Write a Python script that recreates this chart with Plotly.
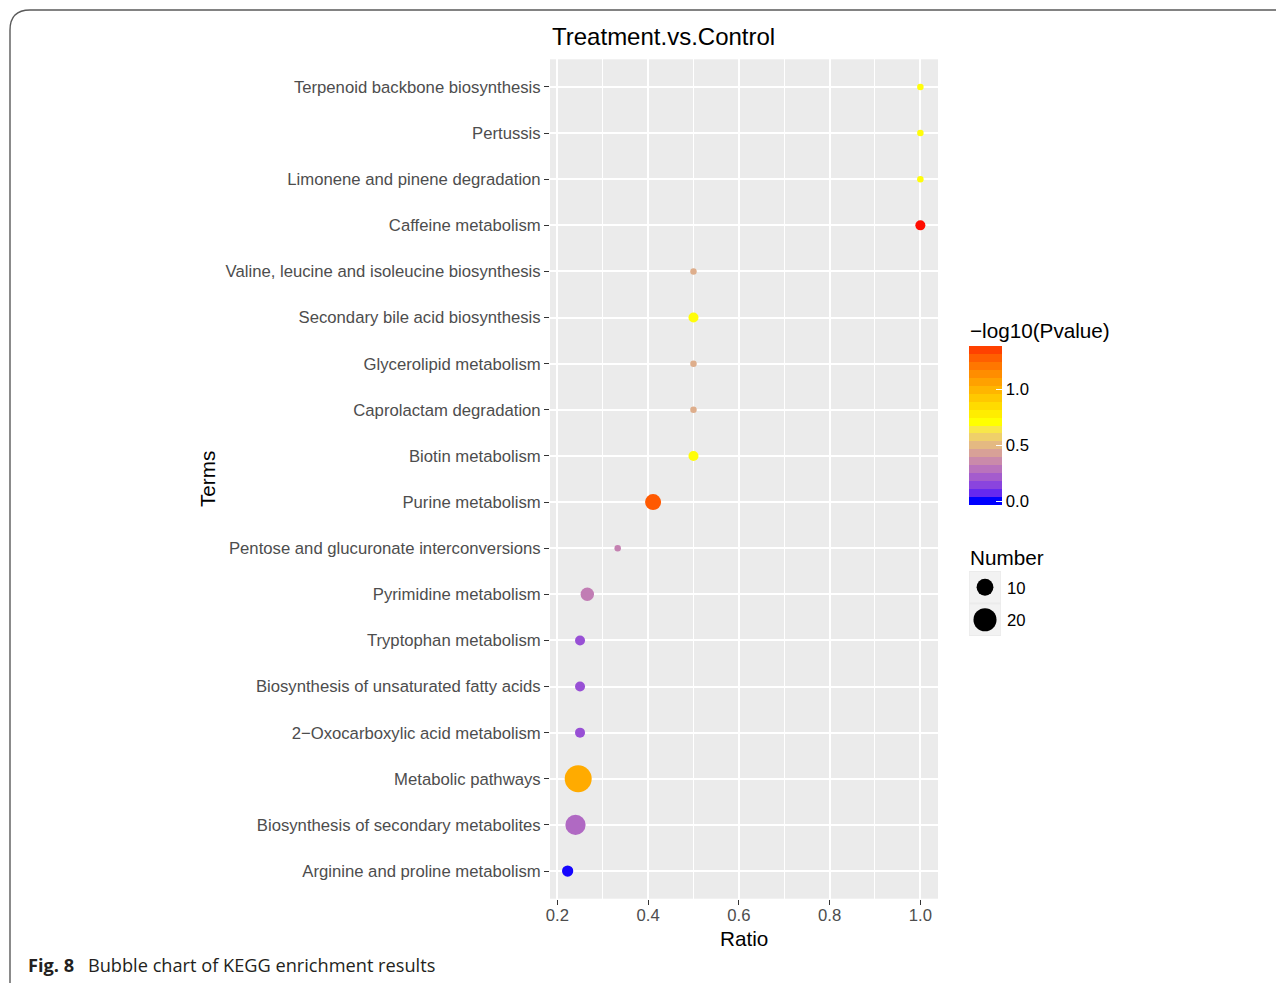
import numpy as np
import plotly.graph_objects as go

# ---------------- data ----------------
terms = [
    "Terpenoid backbone biosynthesis",
    "Pertussis",
    "Limonene and pinene degradation",
    "Caffeine metabolism",
    "Valine, leucine and isoleucine biosynthesis",
    "Secondary bile acid biosynthesis",
    "Glycerolipid metabolism",
    "Caprolactam degradation",
    "Biotin metabolism",
    "Purine metabolism",
    "Pentose and glucuronate interconversions",
    "Pyrimidine metabolism",
    "Tryptophan metabolism",
    "Biosynthesis of unsaturated fatty acids",
    "2\u2212Oxocarboxylic acid metabolism",
    "Metabolic pathways",
    "Biosynthesis of secondary metabolites",
    "Arginine and proline metabolism",
]
ratio = [1.0, 1.0, 1.0, 1.0, 0.5, 0.5, 0.5, 0.5, 0.5, 0.411, 0.333, 0.266,
         0.25, 0.25, 0.25, 0.246, 0.240, 0.2227]
number = [1, 1, 1, 3, 1, 3, 1, 1, 3, 9, 1, 6, 3, 3, 3, 28, 15, 4]
neglog10p = [0.67, 0.67, 0.67, 1.35, 0.44, 0.67, 0.44, 0.44, 0.67, 1.23, 0.31,
             0.30, 0.17, 0.17, 0.17, 0.98, 0.24, 0.0]
legend_numbers = [10, 20]
color_ticks = [0.0, 0.5, 1.0]
x_ticks = [0.2, 0.4, 0.6, 0.8, 1.0]

# page has an 8px body margin; positions below are given in window pixels
OFF = 8
W, H = 1284 - OFF, 983 - OFF
def px(x):
    return (x - OFF) / W
def py(y):
    return 1 - (y - OFF) / H

# ---------------- colour ramp (blue -> yellow -> red, Lab interpolation) ----------------
def _lin(c):
    c = c / 255.0
    return c / 12.92 if c <= 0.04045 else ((c + 0.055) / 1.055) ** 2.4
def _delin(c):
    c = 12.92 * c if c <= 0.0031308 else 1.055 * c ** (1 / 2.4) - 0.055
    return max(0, min(255, round(c * 255)))
M = np.array([[0.4124, 0.3576, 0.1805], [0.2126, 0.7152, 0.0722], [0.0193, 0.1192, 0.9505]])
Minv = np.linalg.inv(M)
WP = np.array([0.95047, 1.0, 1.08883])
def rgb2lab(rgb):
    xyz = M @ np.array([_lin(c) for c in rgb]) / WP
    f = np.where(xyz > (6 / 29) ** 3, np.cbrt(xyz), xyz / (3 * (6 / 29) ** 2) + 4 / 29)
    return np.array([116 * f[1] - 16, 500 * (f[0] - f[1]), 200 * (f[1] - f[2])])
def lab2rgb(lab):
    L, a, b = lab
    fy = (L + 16) / 116
    f = np.array([fy + a / 500, fy, fy - b / 200])
    xyz = np.where(f > 6 / 29, f ** 3, 3 * (6 / 29) ** 2 * (f - 4 / 29)) * WP
    lin = np.clip(Minv @ xyz, 0, 1)
    return tuple(_delin(c) for c in lin)
ramp = [rgb2lab((0, 0, 255)), rgb2lab((255, 255, 0)), rgb2lab((255, 0, 0))]
vmin, vmax = min(neglog10p), max(neglog10p)
def col(v):
    t = min(1, max(0, (v - vmin) / (vmax - vmin))) * 2
    i = min(1, int(t))
    f = t - i
    lab = ramp[i] * (1 - f) + ramp[i + 1] * f
    r, g, b = lab2rgb(lab)
    return f"rgb({r},{g},{b})"

# ggplot-like colourbar: 20 bins, bar extends half a bin beyond the limits
NBIN = 20
step = (vmax - vmin) / (NBIN - 1)
cmin, cmax = vmin - step / 2, vmax + step / 2
smooth_scale = [[float(s), col(cmin + s * (cmax - cmin))] for s in np.linspace(0, 1, 61)]
binned_scale = []
for i in range(NBIN):
    c = col(vmin + i * (vmax - vmin) / NBIN)
    binned_scale += [[i / NBIN, c], [(i + 1) / NBIN, c]]

# ---------------- size scale (area, ggplot-like) ----------------
nmin, nmax = min(number), max(number)
dmin, dmax = 6.5, 27.0
def size_of(n):
    return dmin + (dmax - dmin) * (np.sqrt(n) - np.sqrt(nmin)) / (np.sqrt(nmax) - np.sqrt(nmin))

TICK = 16.7
TITLE = 20.7
FONT = "Liberation Sans, Arial, Helvetica"

# ---------------- figure ----------------
fig = go.Figure()
fig.add_trace(go.Scatter(
    x=ratio, y=terms, mode="markers",
    marker=dict(size=[size_of(n) for n in number], color=neglog10p,
                colorscale=smooth_scale, cmin=cmin, cmax=cmax, opacity=1,
                line=dict(width=0), showscale=False),
    showlegend=False, hoverinfo="x+y",
))

# colour legend (binned colourbar, hidden carrier points)
fig.add_trace(go.Scatter(
    x=[-10, -10], y=[-10, -10], mode="markers", xaxis="x2", yaxis="y2",
    marker=dict(color=[vmin, vmax], colorscale=binned_scale, cmin=cmin, cmax=cmax,
                showscale=True,
                colorbar=dict(
                    xref="paper", yref="paper",
                    x=px(969), xanchor="left", y=py(346), yanchor="top",
                    lenmode="pixels", len=159, thicknessmode="pixels", thickness=33,
                    xpad=0, ypad=0, outlinewidth=0,
                    tickvals=color_ticks, ticktext=[f"{v:.1f}" for v in color_ticks],
                    ticks="inside", ticklen=6, tickcolor="white", tickwidth=1.2,
                    tickfont=dict(family=FONT, size=TICK, color="#000000"),
                )),
    showlegend=False, hoverinfo="skip",
))

# size legend
fig.add_trace(go.Scatter(
    x=[0.5, 0.5], y=[1.5, 0.5], mode="markers", xaxis="x2", yaxis="y2",
    marker=dict(size=[size_of(n) for n in legend_numbers], color="#000000",
                opacity=1, line=dict(width=0)),
    showlegend=False, hoverinfo="skip",
))

lo, hi = min(ratio), max(ratio)
pad = 0.05 * (hi - lo)
n = len(terms)

axis_common = dict(showline=False, zeroline=False, ticks="outside", ticklen=5,
                   tickwidth=1.2, tickcolor="#333333",
                   tickfont=dict(family=FONT, size=TICK, color="#4D4D4D"),
                   gridcolor="white", gridwidth=1.8, automargin=False)

fig.update_layout(
    width=W, height=H,
    margin=dict(l=0, r=0, t=0, b=0, autoexpand=False),
    paper_bgcolor="white", plot_bgcolor="#EBEBEB",
    font=dict(family=FONT, color="#000000"),
    xaxis=dict(domain=[px(550), px(938)], range=[lo - pad, hi + pad],
               tickvals=x_ticks, ticktext=[f"{v:.1f}" for v in x_ticks],
               minor=dict(dtick=0.1, tick0=0, showgrid=True, gridcolor="white",
                          gridwidth=0.9, ticks=""),
               ticklabelstandoff=-4,
               anchor="y", **axis_common),
    yaxis=dict(domain=[py(898.7), py(59.3)], range=[-0.6, n - 0.4],
               categoryorder="array", categoryarray=terms[::-1],
               anchor="x", **axis_common),
    xaxis2=dict(domain=[px(969), px(1001)], range=[0, 1], visible=False, anchor="y2"),
    yaxis2=dict(domain=[py(636), py(571)], range=[0, 2], visible=False, anchor="x2"),
    shapes=[
        dict(type="rect", xref="x2", yref="y2", x0=0.02, x1=0.98, y0=1.03, y1=1.97,
             fillcolor="#F2F2F2", line=dict(width=0), layer="below"),
        dict(type="rect", xref="x2", yref="y2", x0=0.02, x1=0.98, y0=0.03, y1=0.97,
             fillcolor="#F2F2F2", line=dict(width=0), layer="below"),
        dict(type="path", xref="paper", yref="paper",
             path=(f"M {px(10)},{py(990)} L {px(10)},{py(30)} "
                   f"Q {px(10)},{py(10)} {px(30)},{py(10)} L {px(1290)},{py(10)}"),
             line=dict(color="#5A5A5A", width=1.4)),
    ],
    annotations=[
        dict(text="Treatment.vs.Control", x=px(663), y=py(36), xref="paper", yref="paper",
             showarrow=False, xanchor="center", yanchor="middle", font=dict(size=24)),
        dict(text="Ratio", x=px(744), y=py(938), xref="paper", yref="paper",
             showarrow=False, xanchor="center", yanchor="middle", font=dict(size=TITLE)),
        dict(text="Terms", x=px(207), y=py(479), xref="paper", yref="paper",
             showarrow=False, xanchor="center", yanchor="middle", textangle=-90,
             font=dict(size=TITLE)),
        dict(text="\u2212log10(Pvalue)", x=px(968), y=py(330), xref="paper", yref="paper",
             showarrow=False, xanchor="left", yanchor="middle", font=dict(size=TITLE)),
        dict(text="Number", x=px(968), y=py(557), xref="paper", yref="paper",
             showarrow=False, xanchor="left", yanchor="middle", font=dict(size=TITLE)),
        dict(text=str(legend_numbers[0]), x=px(1005), y=py(588), xref="paper", yref="paper",
             showarrow=False, xanchor="left", yanchor="middle", font=dict(size=TICK)),
        dict(text=str(legend_numbers[1]), x=px(1005), y=py(620), xref="paper", yref="paper",
             showarrow=False, xanchor="left", yanchor="middle", font=dict(size=TICK)),
        dict(text="<b>Fig. 8</b>\u2002 Bubble chart of KEGG enrichment results",
             x=px(26), y=py(965), xref="paper", yref="paper", showarrow=False,
             xanchor="left", yanchor="middle",
             font=dict(family="Open Sans", size=18.2, color="#231F20")),
    ],
)

fig.write_html("out.html")
